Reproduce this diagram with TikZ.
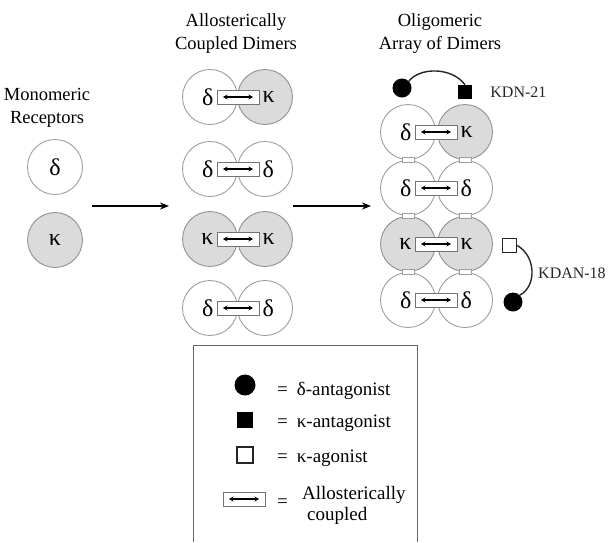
\documentclass[tikz,border=0pt]{standalone}
\usepackage{fontspec}
\setmainfont{Liberation Serif}
\usetikzlibrary{arrows.meta,positioning}
\definecolor{ringgray}{gray}{0.62}
\definecolor{kapfill}{gray}{0.86}
\tikzset{
recdelta/.style={circle,draw=ringgray,line width=0.9pt,fill=white,minimum size=55pt,inner sep=0pt},
reckappa/.style={recdelta,fill=kapfill},
greek/.style={inner sep=0pt,font=\fontsize{24}{24}\selectfont},
cplarr/.style={{Stealth[length=4.5pt,width=5pt]}-{Stealth[length=4.5pt,width=5pt]},draw=black,line width=1.2pt},
cplbox/.style={rectangle,draw=black!55,line width=0.8pt,fill=white,minimum width=42pt,minimum height=14pt,inner sep=0pt,
  path picture={\draw[cplarr] ([xshift=6pt]path picture bounding box.west) -- ([xshift=-6pt]path picture bounding box.east);}},
linkbox/.style={rectangle,draw=ringgray,line width=0.8pt,fill=white,minimum width=12pt,minimum height=5pt,inner sep=0pt},
stagearr/.style={-{Stealth[length=9pt,width=7pt]},line width=2pt},
tether/.style={line width=1.4pt,black!85},
ligdot/.style={circle,fill=black,minimum size=19pt,inner sep=0pt},
ligsq/.style={rectangle,fill=black,minimum size=14pt,inner sep=0pt},
agosq/.style={rectangle,draw=black!85,line width=1.3pt,fill=white,minimum size=14pt,inner sep=0pt},
stagetitle/.style={align=center,inner sep=0pt,font=\fontsize{18.5}{23}\selectfont},
drugname/.style={anchor=west,inner sep=0pt,text=black!85,font=\fontsize{16}{18}\selectfont},
legtext/.style={inner sep=0pt,font=\fontsize{19}{21}\selectfont},
legframe/.style={draw=black!60,line width=0.9pt}
}
\begin{document}
\begin{tikzpicture}[x=1pt,y=-1pt]
\useasboundingbox (0,0) rectangle (612,542);
% column titles
\node[stagetitle] (tmono) at (47,108) {Monomeric\\Receptors};
\node[stagetitle] (tdim) at (236,34) {Allosterically\\Coupled Dimers};
\node[stagetitle] (tolig) at (440,34) {Oligomeric\\Array of Dimers};

\begin{scope}[blend mode=multiply]
% monomers
\node[recdelta,greek] (md) at (55,167) {δ};
\node[reckappa,greek] (mk) at (55,240) {κ};
% coupled dimers
\node[recdelta] (d1l) at (210,97) {};
\node[reckappa] (d1r) at (265,97) {};
\node[recdelta] (d2l) at (210,169) {};
\node[recdelta] (d2r) at (265,169) {};
\node[reckappa] (d3l) at (210,239) {};
\node[reckappa] (d3r) at (265,239) {};
\node[recdelta] (d4l) at (210,308) {};
\node[recdelta] (d4r) at (265,308) {};
% oligomeric array
\node[recdelta] (o1l) at (408,132) {};
\node[reckappa] (o1r) at (465,132) {};
\node[recdelta] (o2l) at (408,188) {};
\node[recdelta] (o2r) at (465,188) {};
\node[reckappa] (o3l) at (408,244) {};
\node[reckappa] (o3r) at (465,244) {};
\node[recdelta] (o4l) at (408,300) {};
\node[recdelta] (o4r) at (465,300) {};
\end{scope}

% couplings inside the dimers
\node[cplbox] (c1) at (d1l.east) {};
\node[cplbox] (c2) at (d2l.east) {};
\node[cplbox] (c3) at (d3l.east) {};
\node[cplbox] (c4) at (d4l.east) {};
\node[cplbox] (c5) at (o1l.east) {};
\node[cplbox] (c6) at (o2l.east) {};
\node[cplbox] (c7) at (o3l.east) {};
\node[cplbox] (c8) at (o4l.east) {};
\node[greek,left=3pt of c1] {δ};
\node[greek,right=3pt of c1] {κ};
\node[greek,left=3pt of c2] {δ};
\node[greek,right=3pt of c2] {δ};
\node[greek,left=3pt of c3] {κ};
\node[greek,right=3pt of c3] {κ};
\node[greek,left=3pt of c4] {δ};
\node[greek,right=3pt of c4] {δ};
\node[greek,left=3pt of c5] {δ};
\node[greek,right=3pt of c5] {κ};
\node[greek,left=3pt of c6] {δ};
\node[greek,right=3pt of c6] {δ};
\node[greek,left=3pt of c7] {κ};
\node[greek,right=3pt of c7] {κ};
\node[greek,left=3pt of c8] {δ};
\node[greek,right=3pt of c8] {δ};

% links between stacked dimers
\node[linkbox] at (o1l.south) {};
\node[linkbox] at (o1r.south) {};
\node[linkbox] at (o2l.south) {};
\node[linkbox] at (o2r.south) {};
\node[linkbox] at (o3l.south) {};
\node[linkbox] at (o3r.south) {};

% stage arrows
\coordinate (a1s) at (92,206);
\coordinate (a1e) at (169,206);
\coordinate (a2s) at (293,206);
\coordinate (a2e) at (371,206);
\draw[stagearr] (a1s) -- (a1e);
\draw[stagearr] (a2s) -- (a2e);

% bivalent ligands
\node[ligdot] (kdnd) at (402,88) {};
\node[ligsq] (kdns) at (465,92) {};
\draw[tether] (kdnd.north east) .. controls (420,67) and (452,67) .. (kdns.north);
\node[drugname,right=18pt of kdns] (kdn) {KDN-21};
\node[agosq] (kdas) at (509.5,245.5) {};
\node[ligdot] (kdad) at (513,302) {};
\draw[tether] (kdas.east) .. controls (536,256) and (537,286) .. (kdad.north east);
\node[drugname] (kdan) at (538,273) {KDAN-18};

% legend
\coordinate (lgbl) at (193,542);
\coordinate (lgtr) at (417,345);
\draw[legframe] (lgbl) |- (lgtr) -- (lgtr |- lgbl);
\node[ligdot,minimum size=21pt] (kdot) at (245,385) {};
\node[ligsq,minimum size=16pt] (ksq) at (245,420) {};
\node[agosq,minimum size=16pt] (kago) at (245,455) {};
\node[cplbox] (kcpl) at (244,499) {};
\node[legtext,anchor=base west] (kdottx) at (277,395) {=\hspace{9pt}δ-antagonist};
\node[legtext,anchor=base west] (ksqtx) at (277,427) {=\hspace{9pt}κ-antagonist};
\node[legtext,anchor=base west] (kagotx) at (277,462) {=\hspace{9pt}κ-agonist};
\node[legtext,anchor=base west] (kcpleq) at (277,507) {=};
\node[legtext,anchor=west,align=left] (kcpltx) at (302,505) {Allosterically\\\hspace{5pt}coupled};
\end{tikzpicture}
\end{document}
